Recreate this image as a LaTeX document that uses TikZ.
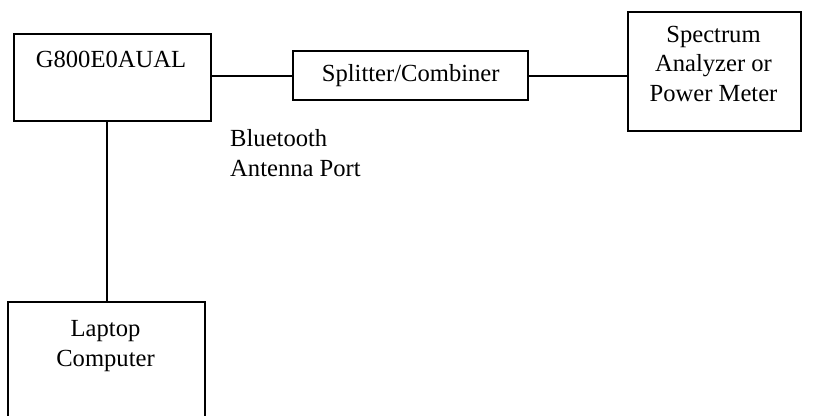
\documentclass[tikz,border=0pt]{standalone}
\usepackage{fontspec}
\setmainfont{Liberation Serif}
\begin{document}
\begin{tikzpicture}[x=1pt,y=-1pt,
  box/.style={draw, line width=2.4pt, inner sep=0pt, anchor=north west},
  lbl/.style={inner sep=0pt, align=center, font=\fontsize{24.6}{29.5}\selectfont},
  wire/.style={line width=2.4pt}]
\useasboundingbox (0,0) rectangle (826,415);
\clip (0,0) rectangle (826,415);
\node[box, minimum width=197pt, minimum height=87pt] (g800) at (13,33) {};
\node[lbl] (g800t) at (111,59) {G800E0AUAL};
\node[box, minimum width=235pt, minimum height=49pt] (spl) at (292,50) {};
\node[lbl] (splt) at (spl.center) {Splitter/Combiner};
\node[box, minimum width=173pt, minimum height=119pt] (spec) at (627,11) {};
\node[lbl] (spect) at (713.5,63.5) {Spectrum\\Analyzer or\\Power Meter};
\node[box, minimum width=197pt, minimum height=160pt] (lap) at (7,301) {};
\node[lbl] (lapt) at (105.5,346) {Laptop\\Computer};
\node[lbl, align=left, anchor=west] (bt) at (230,153) {Bluetooth\\Antenna Port};
\draw[wire] (spl.west) -- (spl.west -| g800.east);
\draw[wire] (spl.east) -- (spl.east -| spec.west);
\draw[wire] (lap.north) -- (lap.north |- g800.south);
\end{tikzpicture}
\end{document}
